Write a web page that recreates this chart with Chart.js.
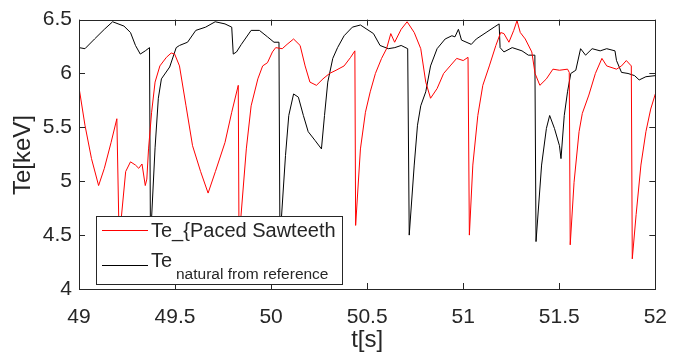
<!DOCTYPE html>
<html lang="en">
<head>
  <meta charset="UTF-8">
  <title>Te paced vs natural sawteeth</title>
  <script src="https://cdn.jsdelivr.net/npm/chart.js"></script>
  <style>
    html, body { margin: 0; padding: 0; background: #fff; }
    #wrap { width: 683px; height: 357px; position: relative; }
  </style>
</head>
<body>
  <div id="wrap"><canvas id="teChart" width="683" height="357"></canvas></div>
  <script>
    // time [s] and Te [keV]
    const timeRed = [49.000, 49.031, 49.065, 49.102, 49.132, 49.167, 49.197, 49.209, 49.243, 49.268, 49.294, 49.311, 49.328, 49.345, 49.353, 49.362, 49.378, 49.396, 49.421, 49.455, 49.480, 49.498, 49.523, 49.557, 49.591, 49.633, 49.672, 49.710, 49.760, 49.795, 49.829, 49.833, 49.871, 49.896, 49.931, 49.956, 49.981, 50.007, 50.024, 50.058, 50.083, 50.117, 50.151, 50.177, 50.202, 50.236, 50.270, 50.304, 50.338, 50.380, 50.414, 50.436, 50.440, 50.465, 50.491, 50.516, 50.543, 50.575, 50.601, 50.623, 50.643, 50.677, 50.708, 50.745, 50.779, 50.805, 50.830, 50.864, 50.898, 50.932, 50.966, 51.000, 51.025, 51.032, 51.050, 51.076, 51.102, 51.136, 51.170, 51.195, 51.212, 51.238, 51.263, 51.280, 51.297, 51.323, 51.357, 51.374, 51.399, 51.433, 51.467, 51.501, 51.543, 51.552, 51.557, 51.577, 51.603, 51.620, 51.654, 51.688, 51.722, 51.747, 51.798, 51.824, 51.849, 51.875, 51.880, 51.900, 51.925, 51.951, 51.976, 52.000];
    const teRed = [5.87, 5.52, 5.21, 4.96, 5.12, 5.36, 5.58, 4.45, 5.09, 5.18, 5.15, 5.12, 5.16, 4.96, 5.02, 5.30, 5.64, 5.92, 6.07, 6.15, 6.19, 6.18, 6.07, 5.70, 5.33, 5.09, 4.89, 5.09, 5.36, 5.64, 5.89, 4.45, 5.30, 5.70, 5.95, 6.07, 6.10, 6.20, 6.24, 6.23, 6.27, 6.32, 6.26, 6.07, 5.92, 5.89, 5.95, 6.00, 6.03, 6.07, 6.15, 6.21, 4.59, 5.30, 5.64, 5.83, 6.00, 6.14, 6.23, 6.37, 6.29, 6.41, 6.48, 6.38, 6.23, 5.92, 5.77, 5.86, 6.00, 6.07, 6.14, 6.12, 6.15, 4.50, 5.15, 5.61, 5.89, 6.07, 6.26, 6.38, 6.37, 6.29, 6.40, 6.49, 6.38, 6.32, 6.20, 6.00, 5.89, 5.95, 6.04, 6.03, 6.04, 6.01, 4.41, 4.99, 5.46, 5.63, 5.80, 6.00, 6.14, 6.07, 6.04, 6.07, 6.12, 6.07, 4.28, 4.69, 5.15, 5.46, 5.67, 5.81];

    const timeBlack = [49.000, 49.031, 49.081, 49.132, 49.175, 49.234, 49.268, 49.294, 49.319, 49.345, 49.367, 49.372, 49.396, 49.413, 49.429, 49.472, 49.506, 49.523, 49.565, 49.608, 49.659, 49.709, 49.760, 49.795, 49.803, 49.820, 49.845, 49.896, 49.939, 49.981, 50.015, 50.041, 50.046, 50.075, 50.092, 50.117, 50.142, 50.168, 50.193, 50.228, 50.262, 50.278, 50.295, 50.321, 50.346, 50.380, 50.423, 50.465, 50.499, 50.533, 50.567, 50.610, 50.644, 50.677, 50.711, 50.719, 50.745, 50.762, 50.779, 50.805, 50.830, 50.864, 50.906, 50.941, 50.957, 50.975, 50.991, 51.042, 51.068, 51.119, 51.161, 51.187, 51.192, 51.212, 51.255, 51.306, 51.339, 51.373, 51.379, 51.408, 51.433, 51.450, 51.475, 51.501, 51.509, 51.526, 51.543, 51.560, 51.586, 51.611, 51.637, 51.671, 51.713, 51.747, 51.790, 51.798, 51.824, 51.858, 51.892, 51.916, 51.951, 52.000];
    const teBlack = [6.24, 6.23, 6.32, 6.41, 6.48, 6.44, 6.38, 6.26, 6.18, 6.21, 6.24, 4.45, 5.31, 5.77, 5.95, 6.06, 6.24, 6.26, 6.29, 6.40, 6.43, 6.48, 6.46, 6.43, 6.18, 6.20, 6.27, 6.40, 6.40, 6.34, 6.29, 6.29, 4.45, 5.24, 5.61, 5.81, 5.78, 5.61, 5.46, 5.38, 5.30, 5.61, 5.92, 6.14, 6.24, 6.35, 6.43, 6.45, 6.41, 6.37, 6.26, 6.23, 6.24, 6.26, 6.23, 4.50, 5.15, 5.52, 5.70, 5.83, 6.07, 6.23, 6.32, 6.35, 6.34, 6.41, 6.31, 6.27, 6.32, 6.38, 6.43, 6.46, 6.24, 6.20, 6.24, 6.21, 6.17, 6.17, 4.44, 5.15, 5.49, 5.61, 5.49, 5.33, 5.21, 5.61, 5.83, 6.00, 6.03, 6.23, 6.17, 6.23, 6.21, 6.23, 6.21, 6.12, 6.01, 6.00, 5.98, 5.94, 5.97, 5.98];

    const xTicks = [49, 49.5, 50, 50.5, 51, 51.5, 52];
    const yTicks = [4, 4.5, 5, 5.5, 6, 6.5];

    const AXIS = '#262626';
    const FONT = '"Liberation Sans", Arial, sans-serif';

    function toPoints(xs, ys) {
      return xs.map((x, i) => ({ x: x, y: ys[i] }));
    }

    // frame, inward ticks on all four sides, axis titles, legend box
    const framePlugin = {
      id: 'frame',
      afterDatasetsDraw(chart) {
        const ctx = chart.ctx;
        const a = chart.chartArea;
        const xs = chart.scales.x, ys = chart.scales.y;
        ctx.save();
        ctx.strokeStyle = AXIS;
        ctx.lineWidth = 1;
        ctx.beginPath();
        xTicks.forEach(v => {
          const px = Math.round(xs.getPixelForValue(v)) + 0.5;
          ctx.moveTo(px, a.bottom); ctx.lineTo(px, a.bottom - 6);
          ctx.moveTo(px, a.top); ctx.lineTo(px, a.top + 6);
        });
        yTicks.forEach(v => {
          const py = Math.round(ys.getPixelForValue(v)) + 0.5;
          ctx.moveTo(a.left, py); ctx.lineTo(a.left + 6, py);
          ctx.moveTo(a.right, py); ctx.lineTo(a.right - 6, py);
        });
        ctx.stroke();
        ctx.strokeRect(Math.round(a.left) + 0.5, Math.round(a.top) + 0.5,
          Math.round(a.right - a.left), Math.round(a.bottom - a.top));

        ctx.fillStyle = AXIS;
        ctx.font = '24px ' + FONT;
        ctx.textAlign = 'center';
        ctx.textBaseline = 'middle';
        ctx.fillText('t[s]', (a.left + a.right) / 2, 340);
        ctx.translate(23, 155);
        ctx.rotate(-Math.PI / 2);
        ctx.fillText('Te[keV]', 0, 0);
        ctx.restore();

        ctx.save();
        const bx = 96.5, by = 216.5, bw = 246, bh = 68;
        ctx.fillStyle = '#ffffff';
        ctx.fillRect(bx, by, bw, bh);
        ctx.strokeStyle = AXIS;
        ctx.lineWidth = 1;
        ctx.strokeRect(bx, by, bw, bh);
        ctx.strokeStyle = '#ff0000';
        ctx.beginPath(); ctx.moveTo(102, 230.5); ctx.lineTo(148, 230.5); ctx.stroke();
        ctx.strokeStyle = '#000000';
        ctx.beginPath(); ctx.moveTo(102, 265.5); ctx.lineTo(148, 265.5); ctx.stroke();
        ctx.fillStyle = AXIS;
        ctx.textAlign = 'left';
        ctx.textBaseline = 'middle';
        ctx.font = '20px ' + FONT;
        ctx.fillText('Te_{Paced Sawteeth', 151, 231);
        ctx.fillText('Te', 151, 261);
        ctx.font = '15.5px ' + FONT;
        ctx.fillText('natural from reference', 176, 275);
        ctx.restore();
      }
    };

    new Chart(document.getElementById('teChart').getContext('2d'), {
      type: 'line',
      data: {
        datasets: [
          {
            label: 'Te_{Paced Sawteeth',
            data: toPoints(timeRed, teRed),
            borderColor: '#ff0000',
            borderWidth: 1,
            pointRadius: 0,
            tension: 0
          },
          {
            label: 'Te natural from reference',
            data: toPoints(timeBlack, teBlack),
            borderColor: '#000000',
            borderWidth: 1,
            pointRadius: 0,
            tension: 0
          }
        ]
      },
      options: {
        responsive: false,
        animation: false,
        events: [],
        layout: { padding: { top: 19, right: 15, left: 0, bottom: 0 } },
        plugins: { legend: { display: false }, tooltip: { enabled: false } },
        scales: {
          x: {
            type: 'linear',
            min: 49, max: 52,
            grid: { display: false, drawTicks: false },
            border: { display: false },
            afterBuildTicks: s => { s.ticks = xTicks.map(v => ({ value: v })); },
            afterFit: s => { s.height = 68; },
            ticks: {
              color: AXIS,
              font: { family: FONT, size: 21 },
              padding: 16,
              maxRotation: 0,
              callback: v => String(v)
            }
          },
          y: {
            type: 'linear',
            min: 4, max: 6.5,
            grid: { display: false, drawTicks: false },
            border: { display: false },
            afterBuildTicks: s => { s.ticks = yTicks.map(v => ({ value: v })); },
            afterFit: s => { s.width = 79; },
            ticks: {
              color: AXIS,
              font: { family: FONT, size: 21 },
              padding: 7,
              callback: v => String(v)
            }
          }
        }
      },
      plugins: [framePlugin]
    });
  </script>
</body>
</html>
